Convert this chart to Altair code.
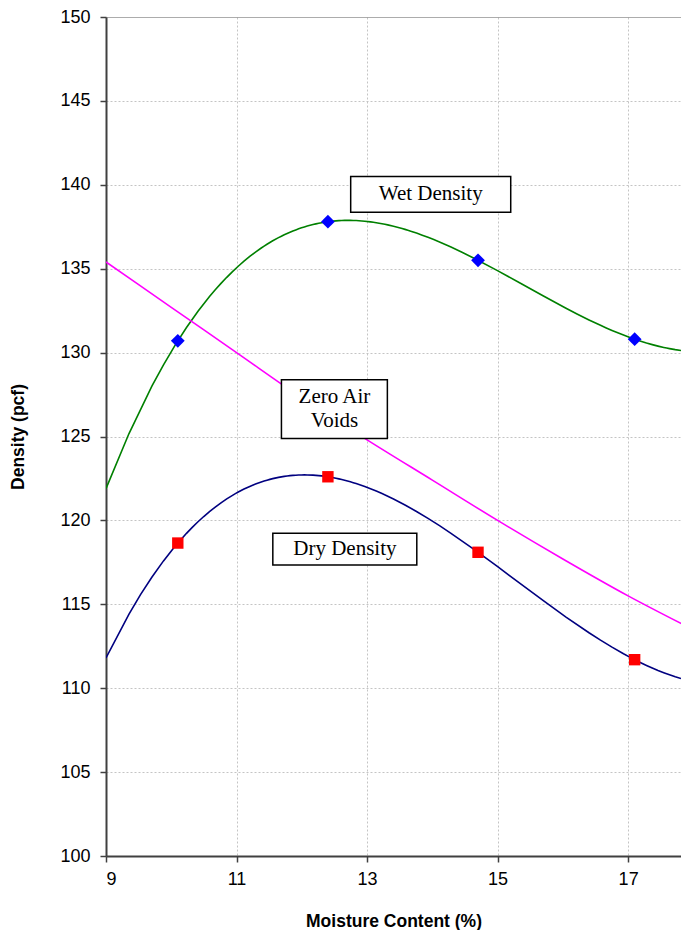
import altair as alt
import pandas as pd

# Measured points
moisture = [10.1, 12.4, 14.7, 17.1]
wet_density = [130.7, 137.8, 135.5, 130.8]
dry_density = [118.65, 122.6, 118.1, 111.7]

# Zero air voids curve
zav_x = [9, 10, 11, 12, 13, 14, 15, 16, 17, 17.94]
zav_y = [135.4, 132.7, 130.0, 127.3, 124.8, 122.4, 120.0, 117.7, 115.5, 113.6]

# Annotation boxes (data units)
lab_text = ["Wet Density", "Zero Air\nVoids", "Dry Density"]
lab_x = [13.975, 12.5, 12.66]
lab_y = [139.43, 127.33, 118.29]
box_x1 = [12.749, 11.688, 11.556]
box_x2 = [15.201, 13.311, 13.762]
box_y1 = [140.50, 128.38, 119.24]
box_y2 = [138.36, 124.88, 117.34]

XMIN, XMAX = 9, 17.81

pts = pd.DataFrame({
    "x": moisture * 2,
    "y": wet_density + dry_density,
    "s": ["Wet"] * 4 + ["Dry"] * 4,
})
zav = pd.DataFrame({"x": zav_x, "y": zav_y})
labs = pd.DataFrame({"t": lab_text, "x": lab_x, "y": lab_y,
                     "x1": box_x1, "x2": box_x2, "y1": box_y1, "y2": box_y2})

xs = alt.Scale(domain=[XMIN, XMAX], nice=False, zero=False)
ys = alt.Scale(domain=[100, 150], nice=False, zero=False)

xax = alt.Axis(values=[9, 11, 13, 15, 17], format="d", title="Moisture Content (%)",
               labelPadding=8, titleBaseline="alphabetic", titleY=70)
yax = alt.Axis(values=list(range(100, 151, 5)), format="d", title="Density (pcf)",
               labelPadding=10, titlePadding=32,
               gridColor=alt.condition("datum.value == 150", alt.value("#909090"), alt.value("#c4c4c4")),
               gridDash=alt.condition("datum.value == 150", alt.value([1, 0]), alt.value([2, 2])))

base = alt.Chart(pts)

curves = base.transform_regression(
    "x", "y", groupby=["s"], method="poly", order=3, extent=[XMIN, XMAX]
).mark_line(strokeWidth=1.6, clip=True).encode(
    x=alt.X("x:Q", scale=xs, axis=xax),
    y=alt.Y("y:Q", scale=ys, axis=yax),
    color=alt.Color("s:N", scale=alt.Scale(domain=["Wet", "Dry"], range=["#008000", "#000080"]), legend=None),
)

zav_line = alt.Chart(zav).mark_line(color="#FF00FF", strokeWidth=1.6, interpolate="monotone", clip=True).encode(
    x=alt.X("x:Q", scale=xs), y=alt.Y("y:Q", scale=ys)
)

wet_pts = base.transform_filter(alt.datum.s == "Wet").mark_point(
    shape="diamond", filled=True, size=190, color="#0000FF", opacity=1
).encode(x=alt.X("x:Q", scale=xs), y=alt.Y("y:Q", scale=ys))

dry_pts = base.transform_filter(alt.datum.s == "Dry").mark_point(
    shape="square", filled=True, size=130, color="#FF0000", opacity=1
).encode(x=alt.X("x:Q", scale=xs), y=alt.Y("y:Q", scale=ys))

boxes = alt.Chart(labs).mark_rect(fill="white", stroke="black", strokeWidth=1.5).encode(
    x=alt.X("x1:Q", scale=xs), x2="x2:Q", y=alt.Y("y1:Q", scale=ys), y2="y2:Q"
)

texts = alt.Chart(labs).mark_text(font="Liberation Serif", fontSize=21, color="black",
                                  lineBreak="\n", lineHeight=23.5, baseline="middle").encode(
    x=alt.X("x:Q", scale=xs), y=alt.Y("y:Q", scale=ys), text="t:N"
)

chart = alt.layer(curves, zav_line, wet_pts, dry_pts, boxes, texts).properties(
    width=575, height=839,
    autosize=alt.AutoSizeParams(type="none"),
    padding={"left": 98, "top": 9, "right": 0, "bottom": 74},
).configure_view(stroke=None).configure_axis(
    labelFont="Liberation Sans", labelFontSize=18, labelColor="black",
    titleFont="Liberation Sans", titleFontSize=17.5, titleFontWeight="bold", titleColor="black",
    domainColor="#404040", domainWidth=2, tickColor="#404040", tickSize=6, tickWidth=1.5,
    gridColor="#c4c4c4", gridDash=[2, 2], gridWidth=1,
).configure_axisX(
    gridColor="#c4c4c4", gridDash=[2, 2]
)

chart.save("out.html", embed_options={"renderer": "svg", "actions": False})
